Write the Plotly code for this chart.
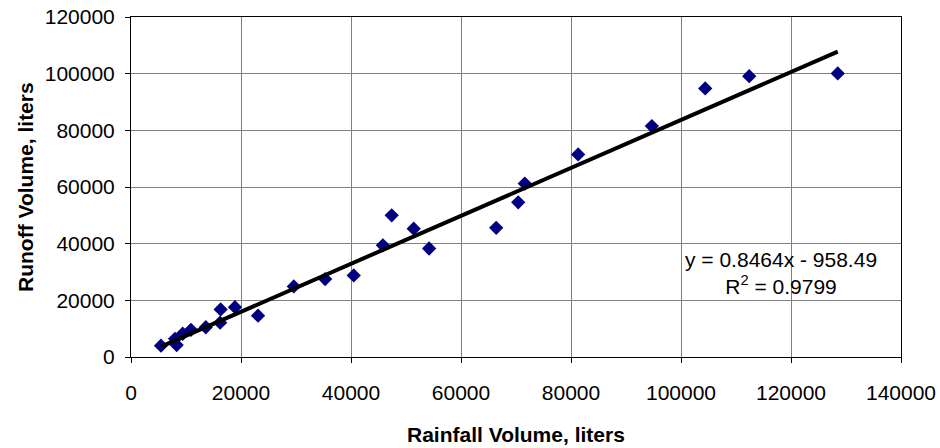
import plotly.graph_objects as go

rainfall = [5450, 8300, 8000, 9400, 10900, 13600, 16200, 16300, 18900, 23100,
            29600, 35300, 40500, 45800, 47400, 51400, 54200, 66400, 70400, 71600,
            81300, 94700, 104400, 112400, 128500]
runoff = [4000, 4200, 6400, 8200, 9600, 10500, 12100, 16800, 17600, 14600,
          24900, 27500, 28800, 39400, 50000, 45300, 38300, 45600, 54600, 61200,
          71500, 81500, 94800, 99100, 100100]

slope = 0.8464
intercept = -958.49
eq_text = "y = 0.8464x - 958.49"
r2_text = "R<sup>2</sup> = 0.9799"

x_ticks = [0, 20000, 40000, 60000, 80000, 100000, 120000, 140000]
y_ticks = [0, 20000, 40000, 60000, 80000, 100000, 120000]

x_title = "Rainfall Volume, liters"
y_title = "Runoff Volume, liters"

font_family = "Liberation Sans, Arial, sans-serif"
fs = 21

fig = go.Figure()
fig.add_trace(go.Scatter(
    x=rainfall, y=runoff, mode="markers",
    marker=dict(symbol="diamond", size=11, color="#000080",
                line=dict(width=0)),
    showlegend=False, cliponaxis=False,
))
x_min, x_max = min(rainfall), max(rainfall)
fig.add_trace(go.Scatter(
    x=[x_min, x_max], y=[slope * x_min + intercept, slope * x_max + intercept],
    mode="lines", line=dict(color="black", width=4),
    showlegend=False, cliponaxis=False,
))

fig.add_annotation(
    x=118200, y=29500, xref="x", yref="y",
    text=eq_text + "<br>" + r2_text, showarrow=False, align="center",
    font=dict(family=font_family, size=fs, color="black"),
)

fig.add_annotation(
    x=0.5, y=-0.229, xref="paper", yref="paper",
    text="<b>" + x_title + "</b>", showarrow=False,
    xanchor="center", yanchor="middle",
    font=dict(family=font_family, size=fs, color="black"),
)
fig.add_annotation(
    x=-0.1377, y=0.5, xref="paper", yref="paper",
    text="<b>" + y_title + "</b>", showarrow=False, textangle=-90,
    xanchor="center", yanchor="middle",
    font=dict(family=font_family, size=fs, color="black"),
)

axis_common = dict(
    showgrid=True, gridcolor="#808080", gridwidth=1,
    showline=True, linecolor="black", linewidth=1, mirror=True,
    ticks="outside", ticklen=5, tickcolor="black",
    zeroline=False, automargin=False, ticklabeloverflow="allow",
    tickfont=dict(family=font_family, size=fs, color="black"),
)

fig.update_xaxes(
    range=[0, 140000], tickvals=x_ticks, ticktext=[str(v) for v in x_ticks],
    ticklabelstandoff=12,
    **axis_common,
)
fig.update_yaxes(
    range=[0, 120000], tickvals=y_ticks, ticktext=[str(v) for v in y_ticks],
    ticklabelstandoff=6,
    **axis_common,
)

fig.update_layout(
    width=940, height=448,
    margin=dict(l=131, r=39, t=17, b=91),
    paper_bgcolor="white", plot_bgcolor="white",
    font=dict(family=font_family, color="black"),
)

# remove the browser's default 8px body margin so the figure fills the window
fig.write_html("out.html",
               config={"displayModeBar": False, "staticPlot": True},
               post_script="document.body.style.margin='0';"
                           "document.body.style.overflow='hidden';")
